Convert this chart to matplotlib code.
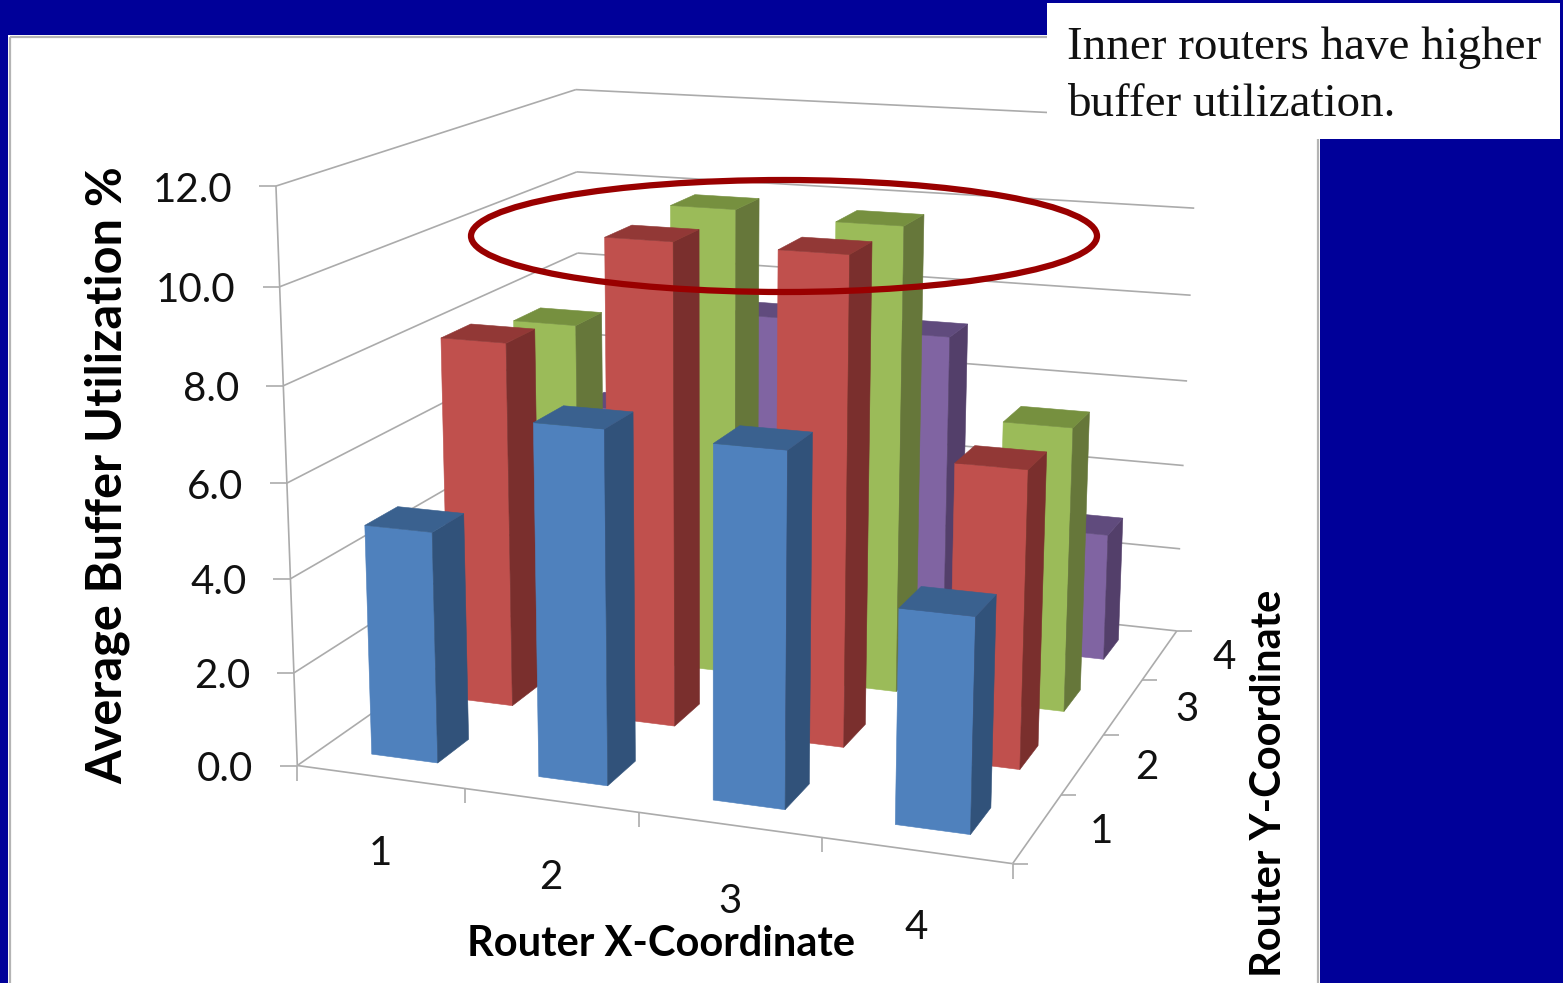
import numpy as np
import matplotlib
matplotlib.use("Agg")
import matplotlib.pyplot as plt
from matplotlib.patches import Ellipse, Polygon, Rectangle

# Average buffer utilisation (%) per router; rows are Y = 1..4, columns are X = 1..4
x_labels = ["1", "2", "3", "4"]
y_labels = ["1", "2", "3", "4"]
z_ticks = [0, 2, 4, 6, 8, 10, 12]
row_y1 = [4.93, 7.4, 7.31, 4.4]
row_y2 = [8.05, 10.45, 10.43, 6.33]
row_y3 = [7.67, 10.5, 10.37, 6.3]
row_y4 = [4.85, 7.35, 7.2, 2.93]
rows = [row_y1, row_y2, row_y3, row_y4]

front_colors = ["#4F81BD", "#C0504D", "#9BBB59", "#8064A2"]
side_colors = ["#31527A", "#7A2F2D", "#66773A", "#533F6A"]
top_colors = ["#3A618F", "#923836", "#76903F", "#604B7D"]

NAVY = "#000099"
GRID = "#ABABAB"
BAR_MARGIN_X = 0.30
BAR_MARGIN_Y = 0.30

# Camera calibration: chart-box positions (x, y, z) and where they land on the canvas
camera_world = [
    (0, 0, 0), (0, 0, 2), (0, 0, 4), (0, 0, 6), (0, 0, 8), (0, 0, 10), (0, 0, 12),
    (1, 0, 0), (2, 0, 0), (3, 0, 0), (4, 0, 0),
    (4, 1, 0), (4, 2, 0), (4, 3, 0), (4, 4, 0),
    (0, 4, 8), (0, 4, 10), (0, 4, 12),
    (4, 4, 2), (4, 4, 4), (4, 4, 6), (4, 4, 8), (4, 4, 10),
]
camera_canvas = [
    (298, 766), (294, 673), (291, 578), (287, 481), (284, 386), (280, 287), (275, 187),
    (464, 790), (638, 813), (821, 838), (1011, 863),
    (1062, 795), (1106, 733), (1143, 680), (1174, 631),
    (578, 253), (576, 172), (576, 89),
    (1181, 549), (1184, 466), (1187, 381), (1191, 296), (1194, 208),
]


def fit_camera(world, canvas):
    """Direct linear transform from 3D chart space to canvas pixels."""
    eqs = []
    for (X, Y, Z), (u, v) in zip(world, canvas):
        eqs.append([X, Y, Z, 1, 0, 0, 0, 0, -u * X, -u * Y, -u * Z, -u])
        eqs.append([0, 0, 0, 0, X, Y, Z, 1, -v * X, -v * Y, -v * Z, -v])
    return np.linalg.svd(np.array(eqs, float))[2][-1].reshape(3, 4)


P = fit_camera(camera_world, camera_canvas)


def proj(x, y, z):
    h = P @ np.array([x, y, z, 1.0])
    return h[0] / h[2], h[1] / h[2]


fig = plt.figure(figsize=(15.63, 9.83), dpi=100, facecolor=NAVY)
ax = fig.add_axes([0, 0, 1, 1])
ax.set_xlim(0, 1563)
ax.set_ylim(983, 0)
ax.axis("off")

# Slide panel with its double edge
ax.add_patch(Rectangle((8, 35), 1312, 960, fc="white", ec="none", zorder=0))
ax.add_patch(Rectangle((10, 37), 1308, 960, fc="none", ec="#B4B4B4", lw=1.6, zorder=1))


def line(a, b, **kw):
    ax.plot([a[0], b[0]], [a[1], b[1]], color=GRID, lw=1.2, solid_capstyle="butt", zorder=2, **kw)


# Walls, floor and ticks
for z in z_ticks:
    corner = proj(0, 4, z)
    left = proj(0, 0, z)
    line(left, corner)
    line(corner, proj(4, 4, z))
    line((left[0] - 17, left[1]), left)
    ax.text(left[0] - 44, left[1] + 4, f"{z:.1f}", ha="right", va="center",
            fontsize=29, family="Lato", color="#111111", zorder=6)
line(proj(0, 0, 0), proj(0, 0, 12))
line(proj(0, 0, 0), proj(4, 0, 0))
line(proj(4, 0, 0), proj(4, 4, 0))
for i in range(5):
    px, py = proj(i, 0, 0)
    line((px, py), (px, py + 15))
    px, py = proj(4, i, 0)
    line((px, py), (px + 15, py))
for i, label in enumerate(x_labels):
    px, py = proj(i + 0.5, 0, 0)
    ax.text(px, py + 77, label, ha="center", va="center", fontsize=29, family="Lato",
            color="#111111", zorder=6)
for j, label in enumerate(y_labels):
    px, py = proj(4, j + 0.5, 0)
    ax.text(px + 64, py + 3, label, ha="center", va="center", fontsize=29, family="Lato",
            color="#111111", zorder=6)

# Bars, painted from the far row to the near row
order = 3
for j in range(3, -1, -1):
    for i in range(4):
        h = rows[j][i]
        x0, x1 = i + BAR_MARGIN_X, i + 1 - BAR_MARGIN_X
        y0, y1 = j + BAR_MARGIN_Y, j + 1 - BAR_MARGIN_Y
        front = [proj(x0, y0, 0), proj(x1, y0, 0), proj(x1, y0, h), proj(x0, y0, h)]
        side = [proj(x1, y0, 0), proj(x1, y1, 0), proj(x1, y1, h), proj(x1, y0, h)]
        top = [proj(x0, y0, h), proj(x1, y0, h), proj(x1, y1, h), proj(x0, y1, h)]
        for pts, col in ((front, front_colors[j]), (side, side_colors[j]), (top, top_colors[j])):
            ax.add_patch(Polygon(pts, closed=True, fc=col, ec=col, lw=0.4, zorder=order))
        order += 0.01

# Axis titles
ax.text(108, 475, "Average Buffer Utilization %", rotation=90, ha="center", va="center",
        fontsize=35, fontweight="bold", family="Lato", color="black", zorder=6)
ax.text(661, 944, "Router X-Coordinate", ha="center", va="center",
        fontsize=30, fontweight="bold", family="Lato", color="black", zorder=6)
ax.text(1269, 783, "Router Y-Coordinate", rotation=90, ha="center", va="center",
        fontsize=30, fontweight="bold", family="Lato", color="black", zorder=6)

# Highlight around the tallest bars
ax.add_patch(Ellipse((784, 236), 626, 112, fc="none", ec="#990000", lw=4.5, zorder=7))

# Callout
ax.add_patch(Rectangle((1047, 3), 513, 136, fc="white", ec="none", zorder=8))
ax.text(1067, 48, "Inner routers have higher", ha="left", va="center", fontsize=33.8,
        family="Liberation Serif", color="#111111", zorder=9)
ax.text(1067, 105, "buffer utilization.", ha="left", va="center", fontsize=33.8,
        family="Liberation Serif", color="#111111", zorder=9)

fig.savefig("out.png", dpi=100, facecolor=NAVY)
